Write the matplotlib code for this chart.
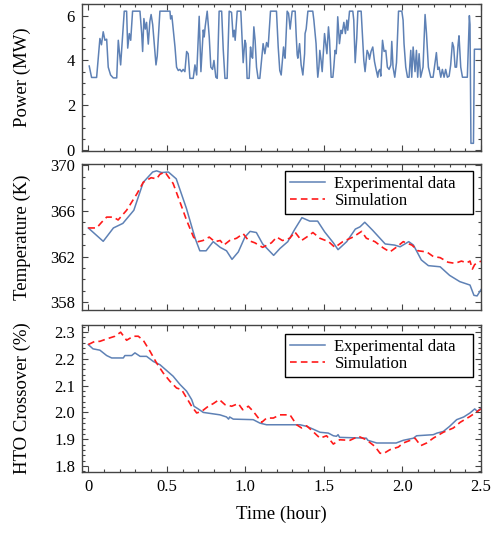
import matplotlib
matplotlib.use("Agg")
import matplotlib.pyplot as plt
from matplotlib.ticker import MultipleLocator, FixedLocator

plt.rcParams['font.family'] = ['Liberation Serif', 'DejaVu Serif']

# ---------------- data ----------------
power_t = [0.006, 0.021, 0.053, 0.074, 0.084, 0.095, 0.106, 0.117, 0.127, 0.142, 0.159, 0.181,
           0.191, 0.206, 0.229, 0.244, 0.251, 0.261, 0.270, 0.282, 0.329, 0.340, 0.346, 0.354,
           0.363, 0.371, 0.382, 0.392, 0.400, 0.410, 0.431, 0.439, 0.456, 0.520, 0.524, 0.532,
           0.552, 0.562, 0.573, 0.583, 0.594, 0.604, 0.615, 0.626, 0.636, 0.647, 0.668, 0.679,
           0.690, 0.706, 0.717, 0.732, 0.738, 0.744, 0.757, 0.770, 0.780, 0.791, 0.800, 0.812,
           0.821, 0.833, 0.849, 0.859, 0.870, 0.884, 0.897, 0.912, 0.922, 0.929, 0.935, 0.948,
           0.971, 0.986, 0.997, 1.003, 1.011, 1.024, 1.033, 1.039, 1.046, 1.054, 1.062, 1.071,
           1.081, 1.092, 1.113, 1.124, 1.135, 1.145, 1.160, 1.198, 1.209, 1.219, 1.228, 1.243,
           1.249, 1.253, 1.266, 1.275, 1.285, 1.291, 1.298, 1.317, 1.323, 1.330, 1.334, 1.345,
           1.355, 1.366, 1.377, 1.380, 1.387, 1.398, 1.429, 1.436, 1.450, 1.457, 1.461, 1.468,
           1.474, 1.482, 1.489, 1.504, 1.514, 1.519, 1.529, 1.536, 1.546, 1.557, 1.563, 1.571,
           1.578, 1.582, 1.588, 1.599, 1.609, 1.616, 1.627, 1.631, 1.637, 1.646, 1.652, 1.663,
           1.684, 1.690, 1.699, 1.709, 1.716, 1.737, 1.748, 1.754, 1.762, 1.775, 1.784, 1.790,
           1.800, 1.811, 1.822, 1.832, 1.843, 1.847, 1.856, 1.862, 1.873, 1.883, 1.894, 1.904,
           1.915, 1.926, 1.932, 1.940, 1.951, 1.962, 1.975, 1.996, 2.004, 2.010, 2.021, 2.032,
           2.042, 2.053, 2.059, 2.068, 2.080, 2.089, 2.097, 2.106, 2.116, 2.131, 2.144, 2.153,
           2.165, 2.180, 2.195, 2.207, 2.216, 2.225, 2.233, 2.244, 2.254, 2.265, 2.275, 2.286,
           2.297, 2.307, 2.318, 2.326, 2.335, 2.344, 2.354, 2.360, 2.371, 2.382, 2.413, 2.426,
           2.430, 2.436, 2.452, 2.458, 2.500]
power_mw = [3.75, 3.24, 3.24, 4.98, 4.70, 5.28, 4.90, 4.95, 3.70, 3.35, 3.22, 3.22,
            4.90, 3.80, 6.20, 6.20, 4.55, 5.20, 4.90, 6.20, 6.20, 5.20, 4.40, 5.87,
            5.40, 5.70, 4.73, 5.75, 6.05, 5.60, 3.80, 4.20, 6.20, 6.20, 5.85, 6.00,
            4.60, 3.70, 3.55, 3.60, 3.50, 3.60, 3.50, 4.40, 4.30, 3.20, 3.20, 3.80,
            3.35, 5.97, 3.50, 5.36, 5.05, 5.50, 6.20, 5.05, 3.70, 3.60, 4.00, 3.25,
            3.20, 6.20, 6.20, 4.50, 3.20, 3.20, 6.20, 6.15, 5.05, 5.35, 4.90, 6.20,
            6.20, 3.90, 4.90, 4.75, 3.20, 3.20, 4.60, 4.20, 4.10, 5.50, 4.90, 3.70,
            3.20, 3.20, 4.75, 4.30, 4.80, 4.60, 6.20, 6.20, 4.60, 3.55, 3.35, 4.60,
            4.20, 4.10, 6.20, 6.10, 5.40, 5.80, 6.20, 6.20, 5.20, 4.25, 4.10, 4.75,
            3.80, 3.35, 4.30, 5.20, 5.40, 6.20, 6.20, 5.80, 4.75, 3.70, 3.25, 3.70,
            4.45, 4.00, 3.50, 5.20, 4.60, 4.30, 5.50, 4.90, 3.25, 3.25, 3.70, 4.45,
            4.30, 4.75, 5.95, 4.75, 5.35, 5.20, 5.70, 5.50, 5.20, 5.80, 5.35, 6.20,
            6.20, 5.80, 3.90, 5.00, 6.20, 6.20, 4.75, 4.00, 3.50, 4.45, 4.30, 4.05,
            4.40, 4.60, 3.95, 3.60, 3.25, 3.50, 3.60, 3.30, 4.90, 4.40, 4.45, 3.70,
            3.60, 3.80, 4.85, 3.70, 3.25, 3.90, 6.20, 6.20, 5.80, 4.75, 3.70, 3.25,
            3.25, 4.45, 3.25, 4.60, 3.50, 4.45, 3.25, 4.30, 3.25, 3.70, 6.05, 5.20,
            3.70, 3.25, 3.25, 3.90, 4.35, 3.60, 3.70, 3.25, 3.60, 3.25, 3.60, 3.25,
            3.30, 3.80, 4.80, 4.60, 3.70, 3.70, 4.70, 5.10, 3.70, 3.25, 3.25, 6.00,
            5.60, 0.30, 0.30, 4.50, 4.50]

temp_exp_t = [0.0, 0.095, 0.16, 0.22, 0.29, 0.35, 0.41, 0.435, 0.467, 0.51, 0.56, 0.625, 0.68,
              0.71, 0.75, 0.795, 0.84, 0.88, 0.915, 0.955, 0.997, 1.03, 1.07, 1.11, 1.18, 1.22,
              1.27, 1.315, 1.36, 1.41, 1.46, 1.505, 1.56, 1.59, 1.645, 1.70, 1.73, 1.76, 1.81,
              1.89, 1.95, 1.985, 2.04, 2.07, 2.12, 2.165, 2.24, 2.30, 2.365, 2.43, 2.455,
              2.475, 2.50]
temp_exp_k = [364.5, 363.33, 364.5, 364.9, 366.05, 368.5, 369.4, 369.5, 369.35, 369.4, 368.8,
              366.2, 363.6, 362.5, 362.5, 363.3, 362.8, 362.5, 361.75, 362.4, 363.7, 364.2,
              364.1, 363.1, 362.1, 362.7, 363.3, 364.4, 365.4, 365.1, 365.1, 364.15, 363.2,
              362.6, 363.3, 364.4, 364.6, 365.0, 364.3, 363.1, 363.0, 362.85, 363.3, 363.0,
              361.7, 361.2, 361.1, 360.35, 359.8, 359.5, 358.6, 358.55, 359.1]

temp_sim_t = [0.0, 0.053, 0.085, 0.117, 0.16, 0.19, 0.244, 0.31, 0.35, 0.40, 0.435, 0.456, 0.488,
              0.54, 0.583, 0.625, 0.67, 0.70, 0.73, 0.77, 0.805, 0.84, 0.863, 0.90, 0.944, 0.986,
              1.02, 1.06, 1.11, 1.166, 1.20, 1.236, 1.283, 1.315, 1.357, 1.39, 1.43, 1.474,
              1.53, 1.57, 1.62, 1.685, 1.74, 1.77, 1.825, 1.878, 1.92, 1.96, 2.005, 2.06, 2.10,
              2.155, 2.196, 2.24, 2.29, 2.335, 2.375, 2.41, 2.43, 2.445, 2.46, 2.50]
temp_sim_k = [364.5, 364.5, 365.0, 365.45, 365.45, 365.2, 366.05, 367.5, 368.5, 368.9, 368.8,
              369.2, 369.4, 368.4, 366.8, 365.2, 363.7, 363.3, 363.4, 363.7, 363.3, 363.4, 363.0,
              363.4, 363.6, 364.0, 363.4, 363.2, 362.8, 363.2, 363.7, 363.4, 363.6, 364.15,
              363.4, 363.7, 364.1, 363.6, 363.3, 362.8, 363.3, 363.7, 364.2, 363.6, 363.3,
              362.75, 362.4, 362.8, 363.3, 363.0, 362.5, 362.4, 362.0, 361.9, 361.5, 361.4,
              361.6, 361.45, 361.6, 360.9, 361.3, 361.6]

hto_exp_t = [0.0, 0.03, 0.074, 0.117, 0.149, 0.223, 0.233, 0.276, 0.297, 0.33, 0.371, 0.414,
             0.456, 0.499, 0.54, 0.584, 0.626, 0.658, 0.673, 0.70, 0.732, 0.838, 0.88, 0.893,
             0.90, 0.923, 1.05, 1.093, 1.135, 1.348, 1.39, 1.43, 1.475, 1.528, 1.56, 1.58, 1.59,
             1.60, 1.77, 1.78, 1.836, 1.96, 2.005, 2.07, 2.09, 2.196, 2.22, 2.26, 2.30, 2.345,
             2.39, 2.43, 2.46, 2.477, 2.50]
hto_exp_pct = [2.253, 2.237, 2.232, 2.212, 2.203, 2.203, 2.212, 2.212, 2.222, 2.209, 2.209,
               2.19, 2.178, 2.156, 2.135, 2.104, 2.079, 2.048, 2.023, 2.013, 2.0, 1.991, 1.983,
               1.975, 1.983, 1.975, 1.973, 1.96, 1.954, 1.954, 1.948, 1.938, 1.926, 1.923,
               1.913, 1.911, 1.917, 1.907, 1.904, 1.896, 1.886, 1.886, 1.896, 1.904, 1.913,
               1.917, 1.923, 1.929, 1.948, 1.973, 1.983, 1.998, 2.013, 2.004, 2.016]

hto_sim_t = [0.0, 0.042, 0.074, 0.117, 0.17, 0.206, 0.244, 0.286, 0.318, 0.35, 0.393, 0.435,
             0.477, 0.52, 0.562, 0.594, 0.626, 0.658, 0.69, 0.722, 0.764, 0.796, 0.834, 0.87,
             0.913, 0.955, 0.983, 1.019, 1.05, 1.104, 1.135, 1.178, 1.22, 1.284, 1.326, 1.358,
             1.39, 1.43, 1.475, 1.517, 1.56, 1.60, 1.666, 1.72, 1.77, 1.825, 1.857, 1.878,
             1.92, 1.974, 2.005, 2.059, 2.08, 2.116, 2.154, 2.196, 2.26, 2.324, 2.367, 2.43,
             2.50]
hto_sim_pct = [2.253, 2.265, 2.265, 2.274, 2.284, 2.299, 2.269, 2.284, 2.284, 2.269, 2.228,
               2.184, 2.147, 2.116, 2.091, 2.085, 2.054, 2.023, 1.998, 2.004, 2.023, 2.033,
               2.048, 2.029, 2.023, 2.033, 2.01, 2.023, 2.004, 1.963, 1.979, 1.979, 1.991,
               1.991, 1.954, 1.942, 1.95, 1.929, 1.904, 1.913, 1.882, 1.898, 1.896, 1.911,
               1.898, 1.873, 1.848, 1.846, 1.861, 1.871, 1.886, 1.898, 1.904, 1.876, 1.886,
               1.904, 1.926, 1.942, 1.963, 1.985, 2.013]

x_ticks = [0, 0.5, 1.0, 1.5, 2.0, 2.5]
x_tick_labels = ["0", "0.5", "1.0", "1.5", "2.0", "2.5"]
power_ticks = [0, 2, 4, 6]
temp_ticks = [358, 362, 366, 370]
hto_ticks = [1.8, 1.9, 2.0, 2.1, 2.2, 2.3]
legend_labels = ["Experimental data", "Simulation"]

# ---------------- style ----------------
BLUE = "#5e81b5"
RED = "#ff1a1a"
FRAME = "#444444"
W, H = 492, 533

fig = plt.figure(figsize=(W / 100, H / 100), dpi=100)

def axes_px(left, top, right, bottom):
    return fig.add_axes([left / W, 1 - bottom / H, (right - left) / W, (bottom - top) / H])

ax1 = axes_px(82, 4, 481, 150.7)
ax2 = axes_px(82, 164, 481, 309.5)
ax3 = axes_px(82, 324.7, 481, 471.7)

def style(ax, yticks, ymin):
    ax.set_xlim(-0.04, 2.5)
    ax.set_xticks(x_ticks)
    ax.xaxis.set_minor_locator(MultipleLocator(0.1))
    ax.yaxis.set_major_locator(FixedLocator(yticks))
    ax.yaxis.set_minor_locator(MultipleLocator(ymin))
    ax.tick_params(which='both', direction='in', top=True, right=True, color=FRAME,
                   labelsize=12, width=0.8)
    ax.tick_params(which='major', length=4.5, pad=5)
    ax.tick_params(which='minor', length=2.5)
    for s in ax.spines.values():
        s.set_color(FRAME)
        s.set_linewidth(1.0)

# Power
ax1.plot(power_t, power_mw, color=BLUE, lw=1.1)
style(ax1, power_ticks, 0.5)
ax1.set_ylim(-0.03, 6.52)
ax1.set_xticklabels([])
ax1.set_ylabel("Power (MW)", fontsize=13.5)

# Temperature
ax2.plot(temp_exp_t, temp_exp_k, color=BLUE, lw=1.1, label=legend_labels[0])
ax2.plot(temp_sim_t, temp_sim_k, color=RED, lw=1.2, ls=(0, (4, 2.5)), label=legend_labels[1])
style(ax2, temp_ticks, 1)
ax2.set_ylim(357.36, 370.1)
ax2.set_yticklabels([str(v) for v in temp_ticks])
ax2.set_xticklabels([])
ax2.set_ylabel("Temperature (K)", fontsize=13.5)

# HTO crossover
ax3.plot(hto_exp_t, hto_exp_pct, color=BLUE, lw=1.1, label=legend_labels[0])
ax3.plot(hto_sim_t, hto_sim_pct, color=RED, lw=1.2, ls=(0, (4, 2.5)), label=legend_labels[1])
style(ax3, hto_ticks, 0.02)
ax3.set_ylim(1.779, 2.327)
ax3.set_yticklabels([f"{v:.1f}" for v in hto_ticks])
ax3.set_xticklabels(x_tick_labels)
ax3.set_ylabel("HTO Crossover (%)", fontsize=13.5)
ax3.set_xlabel("Time (hour)", fontsize=13.5)
ax3.xaxis.set_label_coords(0.5, -0.23)

for ax in (ax1, ax2, ax3):
    ax.yaxis.set_label_coords(-0.128, 0.5)

LEG_X0 = (285 - 82) / 399
LEG_W = 188 / 399
for ax, yanc in ((ax2, 0.954), (ax3, 0.937)):
    leg = ax.legend(loc='upper left', bbox_to_anchor=(LEG_X0, yanc - 0.3, LEG_W, 0.3),
                    mode='expand', borderaxespad=0,
                    fontsize=12, frameon=True, fancybox=False, framealpha=1,
                    edgecolor='black', handlelength=2.1, handletextpad=0.55,
                    borderpad=0.32, labelspacing=0.05)
    leg.get_frame().set_linewidth(1.0)

fig.savefig("out.png", dpi=100)
